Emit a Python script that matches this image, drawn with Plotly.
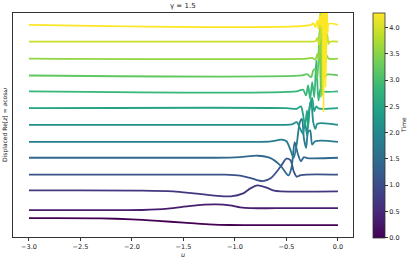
import plotly.graph_objects as go
from plotly.colors import sample_colorscale

# ---------------- data ----------------
TITLE = "γ = 1.5"
TIMES = [0.0, 0.357, 0.714, 1.071, 1.429, 1.786, 2.143, 2.5, 2.857, 3.214, 3.571, 3.929, 4.286]
T_MAX = 4.286
OFFSET_STEP = 1.0
X_TICKS = [-3.0, -2.5, -2.0, -1.5, -1.0, -0.5, 0.0]
CB_TICKS = [0.0, 0.5, 1.0, 1.5, 2.0, 2.5, 3.0, 3.5, 4.0]

U_0 = [-3.0, -2.3, -2.0, -1.75, -1.5, -1.25, -1.05, -0.8, 0.0]
RE_0 = [1.13, 1.12, 1.06, 0.97, 0.86, 0.76, 0.72, 0.71, 0.71]

U_1 = [-3.0, -2.2, -1.9, -1.65, -1.45, -1.3, -1.18, -1.05, -0.95, -0.85, -0.6, 0.0]
RE_1 = [0.61, 0.61, 0.62, 0.70, 0.85, 0.94, 0.96, 0.90, 0.78, 0.73, 0.73, 0.73]

U_2 = [-3.0, -1.9, -1.6, -1.4, -1.2, -1.04, -0.92, -0.85, -0.78, -0.7, -0.62, -0.55, 0.0]
RE_2 = [0.80, 0.79, 0.74, 0.62, 0.49, 0.44, 0.62, 0.92, 1.10, 0.98, 0.78, 0.74, 0.74]

U_3 = [-3.0, -1.5, -1.1, -0.95, -0.83, -0.73, -0.65, -0.56, -0.5, -0.46, -0.43, -0.4, -0.36, 0.0]
RE_3 = [0.75, 0.75, 0.74, 0.68, 0.50, 0.36, 0.55, 1.20, 1.70, 1.60, 0.95, 0.62, 0.72, 0.74]

U_4 = [-3.0, -1.2, -0.95, -0.78, -0.66, -0.56, -0.48, -0.45, -0.42, -0.39, -0.36, -0.33, -0.3, 0.0]
RE_4 = [0.76, 0.76, 0.80, 0.88, 0.75, 0.30, -0.30, 0.20, 1.70, 1.00, 0.55, 0.80, 0.74, 0.76]

U_5 = [-3.0, -0.8, -0.65, -0.55, -0.5, -0.46, -0.43, -0.4, -0.37, -0.35, -0.33, -0.31, -0.29, -0.27, -0.25, -0.22, 0.0]
RE_5 = [0.71, 0.71, 0.74, 0.85, 0.75, 0.20, -0.25, 0.60, 1.90, 2.10, 0.90, 0.35, 1.30, 1.40, 0.55, 0.75, 0.71]

U_6 = [-3.0, -0.6, -0.45, -0.4, -0.37, -0.34, -0.32, -0.3, -0.28, -0.26, -0.24, -0.22, -0.2, 0.0]
RE_6 = [0.73, 0.73, 0.76, 0.90, 0.55, 0.20, 0.90, 0.10, 1.60, 2.20, 0.90, 0.50, 0.80, 0.73]

U_7 = [-3.0, -0.5, -0.4, -0.36, -0.34, -0.32, -0.3, -0.29, -0.27, -0.25, -0.23, -0.21, -0.19, 0.0]
RE_7 = [0.74, 0.74, 0.70, 0.85, 0.40, -0.30, 0.60, -0.40, 1.00, 1.35, 0.55, 0.85, 0.72, 0.74]

U_8 = [-3.0, -0.4, -0.34, -0.31, -0.29, -0.27, -0.25, -0.23, -0.21, -0.19, -0.17, -0.15, 0.0]
RE_8 = [0.75, 0.75, 0.85, 0.50, 1.10, 0.30, 1.30, 0.40, 2.60, 0.20, 0.90, 0.75, 0.75]

U_9 = [-3.0, -0.35, -0.3, -0.26, -0.24, -0.22, -0.2, -0.18, -0.165, -0.15, -0.13, -0.11, 0.0]
RE_9 = [0.70, 0.70, 0.78, 0.60, 1.00, 1.10, 0.50, 3.40, -0.60, 1.50, 0.60, 0.75, 0.70]

U_10 = [-3.0, -0.3, -0.25, -0.22, -0.2, -0.185, -0.17, -0.155, -0.14, -0.125, -0.11, -0.09, 0.0]
RE_10 = [0.71, 0.71, 0.75, 0.65, 1.00, 0.60, 3.80, -1.50, 2.50, 0.20, 0.90, 0.71, 0.71]

U_11 = [-3.0, -0.28, -0.22, -0.2, -0.185, -0.17, -0.155, -0.145, -0.13, -0.12, -0.105, -0.09, -0.08, 0.0]
RE_11 = [0.73, 0.73, 0.75, 0.95, 0.55, 1.20, 4.00, -2.50, 3.00, -0.50, 1.20, 0.60, 0.73, 0.73]

U_12 = [-3.0, -0.26, -0.24, -0.22, -0.2, -0.19, -0.175, -0.16, -0.15, -0.14, -0.13, -0.12, -0.11, -0.1, -0.09, 0.0]
RE_12 = [0.74, 0.74, 0.85, 0.60, 1.00, 0.50, 1.30, 0.60, 5.00, -4.50, 4.50, -3.00, 2.00, 0.30, 0.80, 0.74]

U_LIST = [U_0, U_1, U_2, U_3, U_4, U_5, U_6, U_7, U_8, U_9, U_10, U_11, U_12]
RE_LIST = [RE_0, RE_1, RE_2, RE_3, RE_4, RE_5, RE_6, RE_7, RE_8, RE_9, RE_10, RE_11, RE_12]

# ---------------- figure ----------------
W, H = 412, 263
ML, MR, MT, MB = 13, 59, 13, 24
PW, PH = W - ML - MR, H - MT - MB
FONT = "DejaVu Sans"

colors = sample_colorscale("Viridis", [t / T_MAX for t in TIMES])

fig = go.Figure()
for i, (u, re) in enumerate(zip(U_LIST, RE_LIST)):
    fig.add_trace(go.Scatter(
        x=u, y=[v + i * OFFSET_STEP for v in re],
        mode="lines", line=dict(color=colors[i], width=1.8, shape="spline", smoothing=0.8),
        showlegend=False, hoverinfo="skip",
    ))

# colorbar carrier
fig.add_trace(go.Scatter(
    x=[None], y=[None], mode="markers", showlegend=False, hoverinfo="skip",
    marker=dict(
        color=[0], colorscale="Viridis", cmin=0, cmax=T_MAX, showscale=True,
        colorbar=dict(
            x=(373 - ML) / PW, xanchor="left", xref="paper",
            y=0.5, yanchor="middle", yref="paper",
            thickness=12, thicknessmode="pixels",
            len=225, lenmode="pixels",
            outlinewidth=0.8, outlinecolor="#333",
            tickvals=CB_TICKS, ticktext=[f"{v:.1f}" for v in CB_TICKS],
            ticks="outside", ticklen=3, tickwidth=0.7, tickcolor="#333",
            tickfont=dict(family=FONT, size=6.5, color="#222"),
            xpad=0, ypad=0,
        ),
    ),
))

fig.update_layout(
    width=W, height=H,
    margin=dict(l=ML, r=MR, t=MT, b=MB),
    paper_bgcolor="white", plot_bgcolor="white",
    font=dict(family=FONT, size=6.5, color="#222"),
    xaxis=dict(
        range=[-3.155, 0.146], tickvals=X_TICKS,
        ticktext=[f"{v:.1f}".replace("-", "−") for v in X_TICKS],
        ticks="outside", ticklen=3, tickwidth=0.7, tickcolor="#333",
        showgrid=False, zeroline=False,
        showline=True, linecolor="#333", linewidth=0.8, mirror=True,
        tickfont=dict(family=FONT, size=6.5, color="#222"),
    ),
    yaxis=dict(
        range=[0, PH / 16.8], showticklabels=False, ticks="",
        showgrid=False, zeroline=False,
        showline=True, linecolor="#333", linewidth=0.8, mirror=True,
    ),
    annotations=[
        dict(text=TITLE, xref="paper", yref="paper", x=0.5, y=1, yanchor="bottom",
             yshift=1, showarrow=False, font=dict(family=FONT, size=7, color="#222")),
        dict(text="<i>u</i>", xref="paper", yref="paper", x=0.5, y=-18 / PH,
             yanchor="middle", showarrow=False, font=dict(family=FONT, size=6.5, color="#222")),
        dict(text="Displaced Re[<i>z</i>] = <i>a</i>cos<i>ω</i>", xref="paper", yref="paper",
             x=(5 - ML) / PW, y=0.5, textangle=-90, xanchor="center", yanchor="middle",
             showarrow=False, font=dict(family=FONT, size=6, color="#222")),
        dict(text="Time", xref="paper", yref="paper", x=(403 - ML) / PW, y=0.5,
             textangle=-90, xanchor="center", yanchor="middle",
             showarrow=False, font=dict(family=FONT, size=6, color="#222")),
    ],
)

fig.write_html(
    "out.html",
    config={"displayModeBar": False},
    post_script="document.body.style.margin='0';document.body.style.overflow='hidden';",
)
